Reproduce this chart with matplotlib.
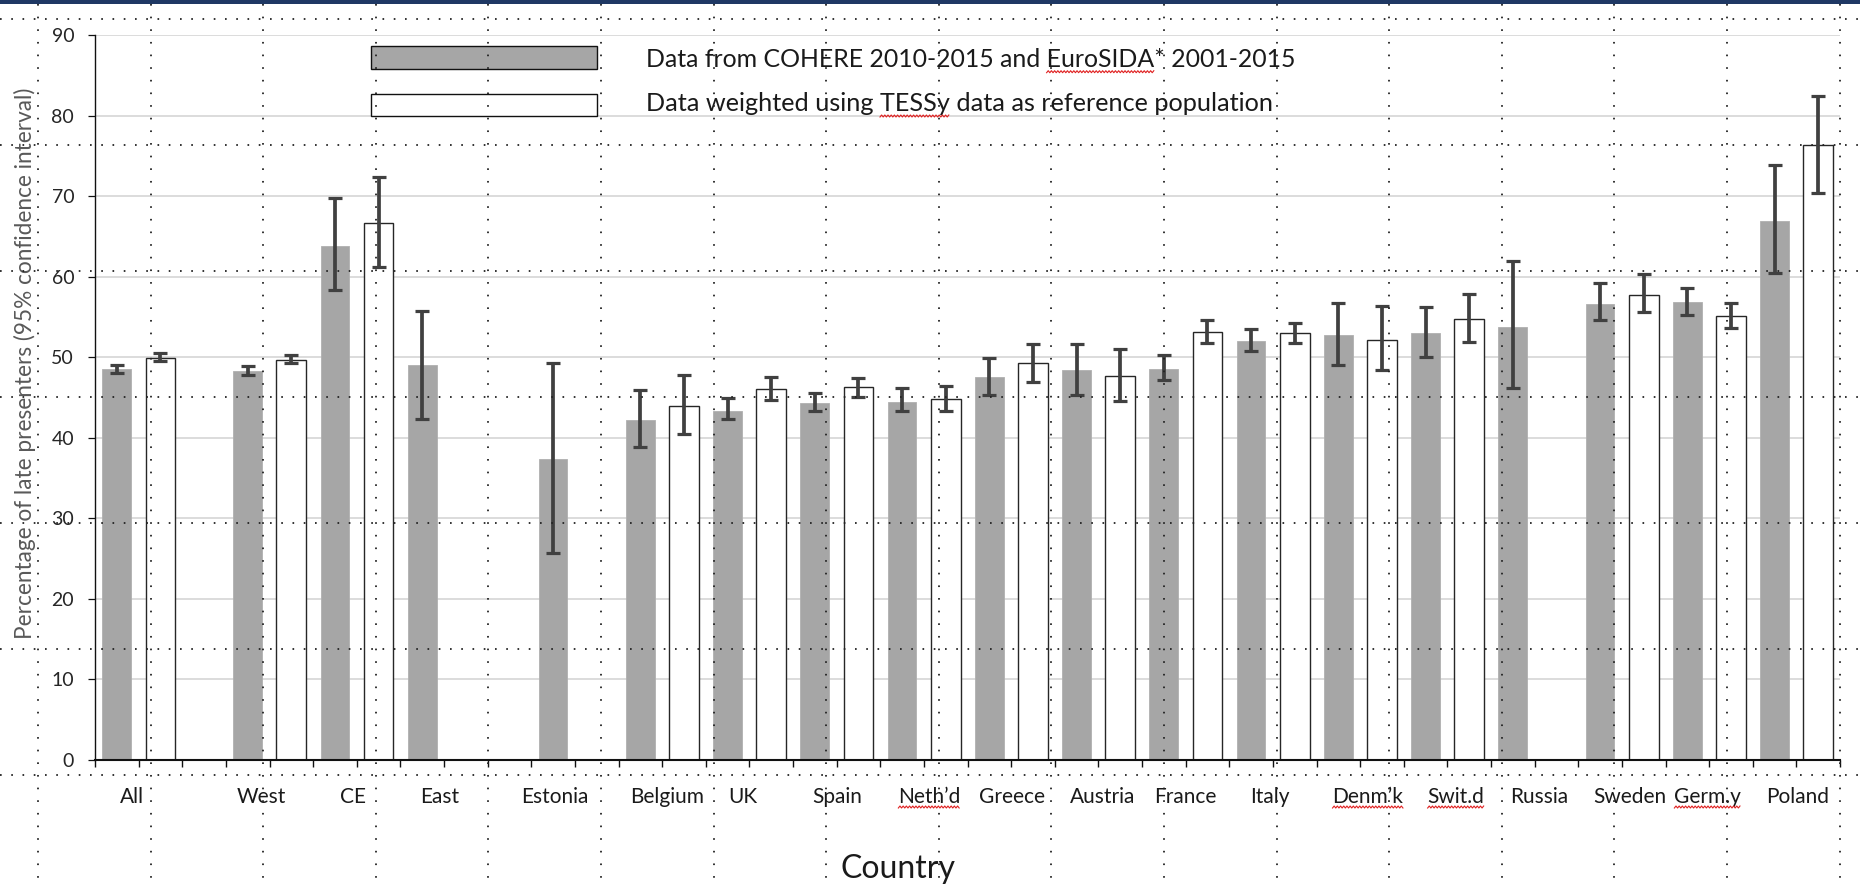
import matplotlib
matplotlib.use("Agg")
import matplotlib.pyplot as plt
import numpy as np
from matplotlib.patches import Rectangle
from matplotlib.lines import Line2D

plt.rcParams['font.family'] = ['Lato', 'DejaVu Sans']
plt.rcParams['lines.scale_dashes'] = False

# ---------------- data ----------------
categories = ["All", "West", "CE", "East", "Estonia", "Belgium", "UK", "Spain",
              "Neth\u2019d", "Greece", "Austria", "France", "Italy", "Denm\u2019k",
              "Swit.d", "Russia", "Sweden", "Germ.y", "Poland"]
nan = np.nan
observed = [48.5, 48.3, 63.8, 49.1, 37.4, 42.2, 43.4, 44.3, 44.5, 47.6,
            48.4, 48.5, 52.0, 52.8, 53.0, 53.8, 56.6, 56.9, 67.0]
observed_lo = [48.0, 47.8, 58.4, 42.4, 25.7, 38.9, 42.3, 43.4, 43.3, 45.3,
               45.3, 47.2, 50.8, 49.0, 50.0, 46.2, 54.6, 55.3, 60.5]
observed_hi = [49.1, 48.9, 69.8, 55.8, 49.3, 45.9, 45.0, 45.6, 46.2, 49.9,
               51.7, 50.3, 53.5, 56.7, 56.3, 62.0, 59.2, 58.6, 73.9]
weighted = [49.9, 49.7, 66.7, nan, nan, 44.0, 46.1, 46.3, 44.8, 49.3,
            47.7, 53.2, 53.0, 52.1, 54.8, nan, 57.8, 55.2, 76.4]
weighted_lo = [49.5, 49.3, 61.2, nan, nan, 40.5, 44.7, 45.1, 43.3, 47.0,
               44.6, 51.8, 51.8, 48.4, 51.9, nan, 55.6, 53.6, 70.4]
weighted_hi = [50.5, 50.3, 72.4, nan, nan, 47.8, 47.6, 47.4, 46.4, 51.7,
               51.0, 54.7, 54.3, 56.4, 57.9, nan, 60.3, 56.7, 82.4]
legend_labels = ["Data from COHERE 2010-2015 and EuroSIDA* 2001-2015",
                 "Data weighted using TESSy data as reference population"]
y_ticks = [0, 10, 20, 30, 40, 50, 60, 70, 80, 90]

# ---------------- layout ----------------
gap_before = [0, 1, 0, 0, 1, 0, 0, 0, 0, 0, 0, 0, 0, 0, 0, 0, 0, 0, 0]
label_x = [0.85, 3.82, 5.91, 7.90, 10.55, 13.12, 14.86, 17.02, 19.13, 21.01,
           23.09, 24.99, 26.94, 29.18, 31.2, 33.1, 35.18, 36.97, 39.04]
underlined = {"Neth\u2019d", "Denm\u2019k", "Swit.d", "Germ.y"}

gray_x, white_x = [], []
slot = 0
for g in gap_before:
    slot += g
    gray_x.append(slot + 0.5)
    white_x.append(slot + 1.5)
    slot += 2
n_slots = slot

W, H = 1860, 885
fx = lambda px: px / W
fy = lambda py: 1 - py / H

fig = plt.figure(figsize=(W / 100, H / 100), dpi=100)
fig.patch.set_facecolor("white")
y0_px, y90_px = 760.0, 35.3
ax = fig.add_axes([fx(95), fy(y0_px), (1840 - 95) / W, (y0_px - y90_px) / H])

GRAY = "#a6a6a6"
ERR = "#404040"

ax.bar(gray_x, observed, width=0.66, color=GRAY, edgecolor="#b0b0b0",
       linewidth=0.6, zorder=2)
ax.bar(white_x, weighted, width=0.68, color="white", edgecolor="#262626",
       linewidth=1.0, zorder=2)

obs = np.array(observed)
wt = np.array(weighted)
for xs, v, lo, hi in [(gray_x, obs, np.array(observed_lo), np.array(observed_hi)),
                      (white_x, wt, np.array(weighted_lo), np.array(weighted_hi))]:
    m = ~np.isnan(v)
    xs = np.array(xs)[m]
    yerr = np.vstack([v[m] - lo[m], hi[m] - v[m]])
    eb = ax.errorbar(xs, v[m], yerr=yerr, fmt="none", ecolor=ERR,
                     elinewidth=2.7, capsize=5.3, capthick=2.3, zorder=4)
    for cl in eb[1]:
        cl.set_color("#1a1a1a")

ax.set_xlim(0, n_slots)
ax.set_ylim(0, 90)
ax.set_yticks(y_ticks)
ax.set_xticks(np.arange(0, n_slots + 1))
ax.set_xticklabels([])
ax.yaxis.grid(True, color="#d9d9d9", linewidth=1.3)
ax.set_axisbelow(True)
for s in ["top", "right"]:
    ax.spines[s].set_visible(False)
ax.spines["left"].set_linewidth(1.0)
ax.spines["bottom"].set_linewidth(1.5)
ax.spines["left"].set_color("#111111")
ax.spines["bottom"].set_color("#111111")
ax.tick_params(axis="y", direction="out", length=5, width=0.9, pad=10,
               labelsize=14, labelcolor="#262626", color="#111111")
ax.tick_params(axis="x", direction="out", length=4.8, width=1.0, color="#111111")

# category labels
cat_texts = []
for name, lx in zip(categories, label_x):
    t = ax.text(lx, 0, name, transform=ax.get_xaxis_transform(),
                fontsize=15, color="#1a1a1a", ha="center", va="baseline")
    t.set_y(-(803 - y0_px) / (y0_px - y90_px))
    cat_texts.append(t)

fig.text(fx(898), fy(878), "Country",
         fontsize=23, color="#1a1a1a", ha="center", va="baseline")

fig.text(fx(25), fy(363), "Percentage of late presenters (95% confidence interval)",
         rotation=90, fontsize=16.3, color="#595959", ha="center", va="center")

# legend
fig.add_artist(Rectangle((fx(371), fy(68.5)), (597 - 371) / W, 23 / H,
                         transform=fig.transFigure, facecolor=GRAY,
                         edgecolor="#111111", linewidth=1.0, zorder=3))
fig.add_artist(Rectangle((fx(371), fy(115.5)), (597 - 371) / W, 21.5 / H,
                         transform=fig.transFigure, facecolor="white",
                         edgecolor="#111111", linewidth=1.0, zorder=3))
leg1 = fig.text(fx(646), fy(66.7), legend_labels[0], fontsize=17.9,
                color="#1a1a1a", ha="left", va="baseline")
leg2 = fig.text(fx(646), fy(111), legend_labels[1], fontsize=18.2,
                color="#1a1a1a", ha="left", va="baseline")

# top band
fig.add_artist(Rectangle((0, fy(4)), 1, 4 / H, transform=fig.transFigure,
                         facecolor="#1f3864", edgecolor="none", zorder=20))

# dotted guide overlay
for k in range(17):
    x = 38 + k * 112.6
    fig.add_artist(Line2D([fx(x), fx(x)], [fy(4), 0], transform=fig.transFigure,
                          color="#222222", linewidth=1.3, dashes=(1.2, 7.9),
                          dash_capstyle="butt", zorder=10))
for k in range(7):
    y = 19 + k * 126
    fig.add_artist(Line2D([0, 1], [fy(y), fy(y)], transform=fig.transFigure,
                          color="#222222", linewidth=1.3, dashes=(1.2, 6.9),
                          dash_capstyle="butt", zorder=10))

# red spell-check wavy underlines
fig.canvas.draw()
renderer = fig.canvas.get_renderer()

def wavy(x0, x1, ybase):
    xs = np.arange(x0, x1, 1.6)
    ys = ybase + np.where(np.arange(len(xs)) % 2 == 0, 1.0, -1.0)
    fig.add_artist(Line2D(xs / W, 1 - ys / H, transform=fig.transFigure,
                          color="#e02020", linewidth=0.8, zorder=11))

def sub_width(t, s):
    w, h, d = renderer.get_text_width_height_descent(s, t.get_fontproperties(), ismath=False)
    return w

for t in cat_texts:
    if t.get_text() in underlined:
        bb = t.get_window_extent(renderer)
        wavy(bb.x0, bb.x1, H - bb.y0 + 0)

for t, word in [(leg1, "EuroSIDA"), (leg2, "TESSy")]:
    bb = t.get_window_extent(renderer)
    s = t.get_text()
    i = s.index(word)
    a = bb.x0 + sub_width(t, s[:i])
    b = a + sub_width(t, word)
    wavy(a, b, H - bb.y0 + 1)

fig.savefig("out.png", dpi=100)
